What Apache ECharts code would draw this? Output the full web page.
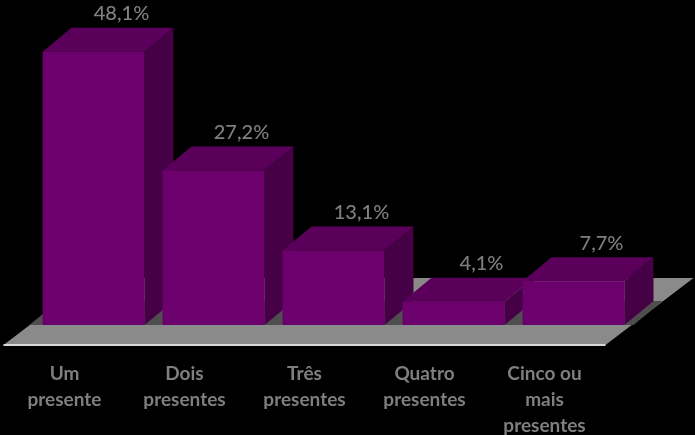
<!DOCTYPE html>
<html>
<head>
<meta charset="utf-8">
<script src="https://cdn.jsdelivr.net/npm/echarts@6/dist/echarts.min.js"></script>
<style>
  html, body { margin: 0; padding: 0; background: #000; }
  #chart { width: 695px; height: 435px; }
</style>
</head>
<body>
<div id="chart"></div>
<script>
// quantidade de presentes
const categories = ['Um\npresente', 'Dois\npresentes', 'Três\npresentes', 'Quatro\npresentes', 'Cinco ou\nmais\npresentes'];
const values = [48.1, 27.2, 13.1, 4.1, 7.7];
const valueLabels = ['48,1%', '27,2%', '13,1%', '4,1%', '7,7%'];

// profundidade do efeito 3D
const DX = 29, DY = -24;
const FRONT = '#6c006c', TOP = '#5a005a', SIDE = '#460046';

let chart = echarts.init(document.getElementById('chart'));

// chão cinza por baixo das barras
function renderFloor(params, api) {
  let cs = params.coordSys;
  let base = api.coord([0, 0])[1];
  let l = cs.x, r = cs.x + cs.width;
  return {
    type: 'group',
    children: [
      {
        type: 'polygon',
        shape: { points: [[l - 30, base + 20], [l + 58, base - 47], [r + 60, base - 47], [r - 28, base + 20]] },
        style: { fill: '#8a8a8a' }
      },
      {
        type: 'polygon',
        shape: { points: [[l - 4, base], [l + DX - 4, base + DY], [r + DX, base + DY], [r, base]] },
        style: { fill: '#4e4e4e' }
      },
      {
        type: 'line',
        shape: { x1: l - 30, y1: base + 20, x2: r - 28, y2: base + 20 },
        style: { stroke: '#d8d8d8', lineWidth: 2 }
      }
    ]
  };
}

function renderBar(params, api) {
  let top = api.coord([api.value(0), api.value(1)]);
  let base = api.coord([api.value(0), 0]);
  let w = api.size([1, 0])[0] * 0.85;
  let x0 = top[0] - w / 2, x1 = top[0] + w / 2;
  let y0 = top[1], yb = base[1];
  return {
    type: 'group',
    children: [
      {
        type: 'polygon',
        shape: { points: [[x1, y0], [x1 + DX, y0 + DY], [x1 + DX, yb + DY], [x1, yb]] },
        style: { fill: SIDE }
      },
      {
        type: 'polygon',
        shape: { points: [[x0, y0], [x0 + DX, y0 + DY], [x1 + DX, y0 + DY], [x1, y0]] },
        style: { fill: TOP }
      },
      {
        type: 'rect',
        shape: { x: x0, y: y0, width: w, height: yb - y0 },
        style: { fill: FRONT }
      },
      {
        type: 'text',
        x: top[0] + DX - 1,
        y: y0 + DY - 14,
        style: {
          text: valueLabels[params.dataIndex],
          fill: '#7f7f7f',
          font: '500 20px Lato',
          align: 'center',
          verticalAlign: 'middle'
        }
      }
    ]
  };
}

let option = {
  backgroundColor: '#000',
  animation: false,
  grid: { left: 33.5, right: 61.5, top: 41, bottom: 110, outerBoundsMode: 'none' },
  xAxis: {
    type: 'category',
    data: categories,
    axisLine: { show: false },
    axisTick: { show: false },
    axisLabel: {
      interval: 0,
      color: '#7f7f7f',
      fontFamily: 'Lato',
      fontWeight: 'bold',
      fontSize: 19,
      lineHeight: 26,
      margin: 36,
      padding: [0, 58, 0, 0]
    }
  },
  yAxis: {
    type: 'value',
    min: 0,
    max: 50,
    show: false,
    splitLine: { show: false }
  },
  series: [
    {
      type: 'custom',
      z: 1,
      clip: false,
      data: [[0]],
      renderItem: renderFloor
    },
    {
      type: 'custom',
      z: 2,
      clip: false,
      data: values.map((v, i) => [i, v]),
      renderItem: renderBar
    }
  ]
};

chart.setOption(option);
</script>
</body>
</html>
